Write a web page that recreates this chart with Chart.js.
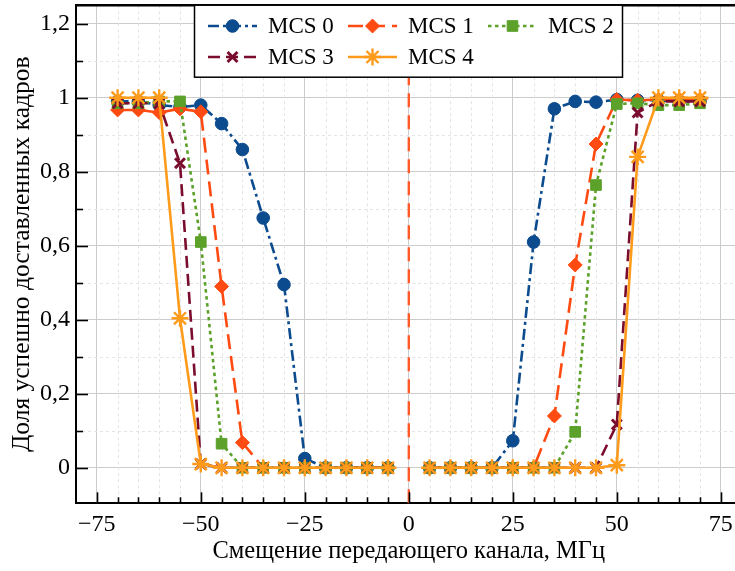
<!DOCTYPE html>
<html>
<head>
<meta charset="utf-8">
<script src="https://cdn.jsdelivr.net/npm/chart.js@4/dist/chart.umd.min.js"></script>
<style>
html,body{margin:0;padding:0;overflow:hidden;background:#fff}
#wrap{width:745px;height:571px;position:relative}
</style>
</head>
<body>
<div id="wrap"><canvas id="c" width="745" height="571"></canvas></div>
<script>
// ---- data ----
const offsets = [-70,-65,-60,-55,-50,-45,-40,-35,-30,-25,-20,-15,-10,-5,0,5,10,15,20,25,30,35,40,45,50,55,60,65,70];
const mcs0 = [0.99,0.99,0.98,0.975,0.98,0.93,0.86,0.675,0.495,0.025,0,0,0,0,null,0,0,0,0,0.073,0.61,0.97,0.99,0.988,0.995,0.993,0.993,0.99,0.99];
const mcs1 = [0.967,0.967,0.96,0.97,0.962,0.49,0.068,0,0,0,0,0,0,0,null,0,0,0,0,0,0,0.14,0.548,0.875,0.995,0.993,0.995,0.995,0.995];
const mcs2 = [0.985,0.985,0.99,0.99,0.61,0.065,0,0,0,0,0,0,0,0,null,0,0,0,0,0,0,0,0.097,0.764,0.983,0.985,0.98,0.98,0.985];
const mcs3 = [0.985,0.985,0.985,0.823,0.01,0,0,0,0,0,0,0,0,0,null,0,0,0,0,0,0,0,0,0,0.117,0.96,0.99,0.99,0.99];
const mcs4 = [1,1,1,0.404,0.01,0,0,0,0,0,0,0,0,0,null,0,0,0,0,0,0,0,0,0,0.007,0.84,1,1,1];
const seriesLabels = ['MCS 0','MCS 1','MCS 2','MCS 3','MCS 4'];
const centerOffset = [0, 0];
const centerSpan = [-0.096, 1.25];
const xLabelTitle = 'Смещение передающего канала, МГц';
const yLabelTitle = 'Доля успешно доставленных кадров';

// ---- styles ----
const FONT = "'Liberation Serif','Times New Roman',serif";
const styles = [
  {color:'#0c4b8e', dash:[11,4,3,4], point:'circle', r:6.3, bw:1},
  {color:'#ff4b12', dash:[15,7], point:'rectRot', r:7, bw:1},
  {color:'#5ba12a', dash:[3.5,3.5], point:'rect', r:7.5, bw:1},
  {color:'#7a0d2e', dash:[12,6], point:'crossRot', r:7, bw:3},
  {color:'#ff9b1a', dash:[], point:'star', r:8.5, bw:2.4}
];
const seriesValues = [mcs0, mcs1, mcs2, mcs3, mcs4];

function fmt(v){ return String(v).replace('-', '\u2212').replace('.', ','); }

const datasets = seriesValues.map((vals, i) => ({
  label: seriesLabels[i],
  data: offsets.map((o, k) => ({x:o, y:vals[k]})),
  borderColor: styles[i].color,
  backgroundColor: styles[i].color,
  borderWidth: 2.6,
  borderDash: styles[i].dash,
  pointStyle: styles[i].point,
  pointRadius: styles[i].r,
  pointBorderWidth: styles[i].bw,
  pointBorderColor: styles[i].color,
  pointBackgroundColor: styles[i].color,
  spanGaps: false,
  tension: 0,
  order: 5 - i
}));
datasets.push({
  label: 'center',
  data: centerOffset.map((o, k) => ({x:o, y:centerSpan[k]})),
  borderColor: '#ff5a28',
  borderWidth: 2.4,
  borderDash: [14,8],
  pointRadius: 0,
  order: 10
});

function drawMarker(ctx, st, x, y){
  const opts = {pointStyle: st.point, radius: st.r, borderWidth: st.bw, rotation: 0};
  ctx.save();
  ctx.setLineDash([]);
  ctx.fillStyle = st.color; ctx.strokeStyle = st.color; ctx.lineWidth = st.bw;
  if (Chart.helpers && Chart.helpers.drawPoint) {
    Chart.helpers.drawPoint(ctx, opts, x, y);
  } else {
    ctx.beginPath(); ctx.arc(x, y, st.r, 0, Math.PI*2); ctx.fill();
  }
  ctx.restore();
}

const framePlugin = {
  id: 'frame',
  beforeDatasetsDraw(chart){
    const {ctx, chartArea:a, scales:{x, y}} = chart;
    ctx.save();
    ctx.beginPath(); ctx.rect(a.left, a.top, a.right - a.left, a.bottom - a.top); ctx.clip();
    ctx.strokeStyle = '#e4e4e4'; ctx.lineWidth = 1; ctx.setLineDash([3,3]);
    for (let v = -75; v <= 80; v += 5) {
      if (v % 25 === 0) continue;
      const px = Math.round(x.getPixelForValue(v)) + 0.5;
      ctx.beginPath(); ctx.moveTo(px, a.top); ctx.lineTo(px, a.bottom); ctx.stroke();
    }
    for (let k = 1; k <= 12; k++) {
      if (k % 2 === 0) continue;
      const py = Math.round(y.getPixelForValue(k/10)) + 0.5;
      ctx.beginPath(); ctx.moveTo(a.left, py); ctx.lineTo(a.right, py); ctx.stroke();
    }
    ctx.restore();
  },
  afterDatasetsDraw(chart){
    const {ctx, chartArea:a, scales:{x, y}} = chart;
    ctx.save();
    ctx.strokeStyle = '#000'; ctx.lineWidth = 1.6; ctx.setLineDash([]);
    for (let v = -75; v <= 80; v += 5) {
      const px = Math.round(x.getPixelForValue(v)) + 0.5;
      const len = (v % 25 === 0) ? 11 : 6;
      ctx.beginPath(); ctx.moveTo(px, a.bottom); ctx.lineTo(px, a.bottom - len); ctx.stroke();
    }
    for (let k = 0; k <= 12; k++) {
      const py = Math.round(y.getPixelForValue(k/10)) + 0.5;
      const len = (k % 2 === 0) ? 12 : 7;
      ctx.beginPath(); ctx.moveTo(a.left, py); ctx.lineTo(a.left + len, py); ctx.stroke();
    }
    ctx.lineWidth = 2.4;
    ctx.beginPath(); ctx.moveTo(a.left - 1, a.top); ctx.lineTo(a.right + 2, a.top); ctx.stroke();
    // legend
    const L = {x:194.5, y:a.top, w:428, h:72};
    ctx.fillStyle = '#fff';
    ctx.fillRect(L.x, L.y, L.w, L.h);
    ctx.lineWidth = 1.5; ctx.strokeStyle = '#000';
    ctx.strokeRect(L.x, L.y, L.w, L.h);
    const cols = [208, 348, 488];
    const rows = [26, 57];
    ctx.font = '23px ' + FONT;
    ctx.textBaseline = 'middle'; ctx.textAlign = 'left';
    styles.forEach((st, i) => {
      const cx = cols[i % 3], cy = rows[Math.floor(i / 3)];
      ctx.save();
      ctx.strokeStyle = st.color; ctx.lineWidth = 2.6; ctx.setLineDash(st.dash);
      ctx.beginPath(); ctx.moveTo(cx, cy); ctx.lineTo(cx + 49, cy); ctx.stroke();
      ctx.restore();
      drawMarker(ctx, st, cx + 24.5, cy);
      ctx.fillStyle = '#000';
      ctx.fillText(seriesLabels[i], cx + 60, cy + 1);
    });
    ctx.restore();
  }
};

Chart.defaults.font.family = FONT;
Chart.defaults.color = '#000';

new Chart(document.getElementById('c'), {
  type: 'line',
  data: {datasets},
  options: {
    responsive: false,
    animation: false,
    layout: {autoPadding: false, padding: {left: 0, top: 5.2, right: 3.4, bottom: 0}},
    plugins: {legend: {display: false}, tooltip: {enabled: false}},
    scales: {
      x: {
        type: 'linear', min: -80, max: 80,
        afterFit(s){ s.height = 67.7; s.paddingLeft = 0; s.paddingRight = 0; },
        ticks: {stepSize: 25, includeBounds: false, font: {size: 24}, padding: 7, maxRotation: 0, callback: v => fmt(v)},
        grid: {color: '#cccccc', lineWidth: 1, drawTicks: false},
        border: {display: true, color: '#000', width: 2},
        title: {display: true, text: xLabelTitle, font: {size: 24.5}, padding: {top: 0, bottom: 5}}
      },
      y: {
        type: 'linear', min: -0.096, max: 1.25,
        afterFit(s){ s.width = 76; s.paddingTop = 0; s.paddingBottom = 0; },
        ticks: {stepSize: 0.2, includeBounds: false, font: {size: 24}, padding: 6, callback: v => fmt(Math.round(v*10)/10)},
        grid: {color: '#cccccc', lineWidth: 1, drawTicks: false},
        border: {display: true, color: '#000', width: 2},
        title: {display: true, text: yLabelTitle, font: {size: 25.5}, padding: {top: 7, bottom: 0}}
      }
    }
  },
  plugins: [framePlugin]
});
</script>
</body>
</html>
